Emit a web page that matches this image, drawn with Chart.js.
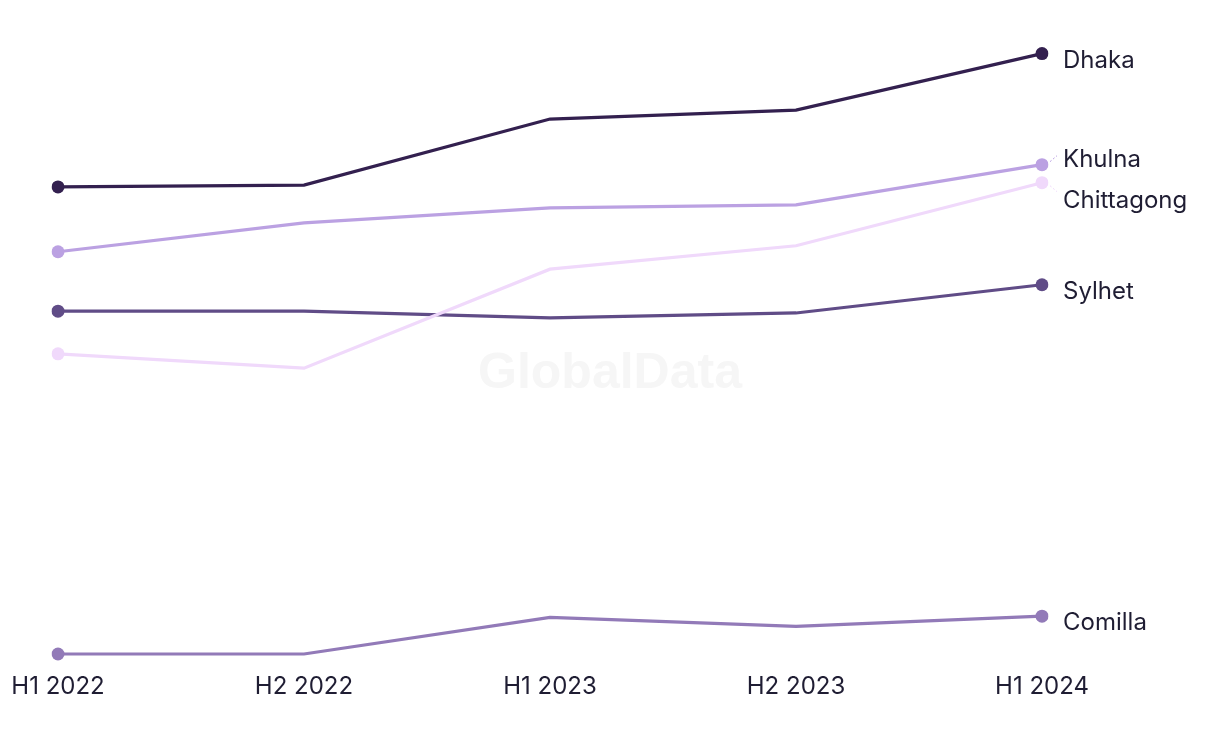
<!DOCTYPE html>
<html>
<head>
<meta charset="utf-8">
<script src="https://cdn.jsdelivr.net/npm/chart.js@4.4.1/dist/chart.umd.min.js"></script>
<style>
  html, body { margin: 0; padding: 0; background: #fff; }
  canvas { display: block; }
</style>
</head>
<body>
<canvas id="chart" width="1220" height="744"></canvas>
<script>
// periods and series (no y axis shown, values read as relative units)
const periods = ['H1 2022', 'H2 2022', 'H1 2023', 'H2 2023', 'H1 2024'];
const dhaka = [85.5, 85.8, 96.8, 98.3, 107.7];
const khulna = [74.7, 79.5, 82.0, 82.5, 89.2];
const chittagong = [57.7, 55.3, 71.8, 75.7, 86.2];
const sylhet = [64.8, 64.8, 63.7, 64.5, 69.2];
const comilla = [7.7, 7.7, 13.8, 12.3, 14.0];

const textColor = '#1f1d33';
const fontFamily = 'Inter, "Noto Sans", sans-serif';

const makeSet = (label, data, color) => ({
    label: label,
    data: data,
    borderColor: color,
    backgroundColor: color,
    pointBackgroundColor: color,
    pointBorderWidth: 0,
    pointRadius: (ctx) => (ctx.dataIndex === 0 || ctx.dataIndex === data.length - 1) ? 6.5 : 0,
    borderWidth: 3.2,
    tension: 0
});

// watermark behind the lines
const watermark = {
    id: 'watermark',
    beforeDatasetsDraw(chart) {
        const ctx = chart.ctx;
        ctx.save();
        ctx.font = 'bold 50px "Liberation Sans", Arial, sans-serif';
        ctx.fillStyle = '#f6f6f6';
        ctx.textAlign = 'center';
        ctx.textBaseline = 'middle';
        ctx.fillText('GlobalData', 610, 374);
        ctx.restore();
    }
};

// end labels with simple collision dodge
const endLabels = {
    id: 'endLabels',
    afterDatasetsDraw(chart) {
        const ctx = chart.ctx;
        const minGap = 41;
        const items = chart.data.datasets.map((ds, i) => {
            const meta = chart.getDatasetMeta(i);
            const pt = meta.data[meta.data.length - 1];
            return { label: ds.label, x: pt.x, py: pt.y, y: pt.y + 7, color: ds.borderColor };
        }).sort((a, b) => a.y - b.y);

        // push apart overlapping neighbours around their midpoint
        for (let k = 0; k < 5; k++) {
            for (let i = 1; i < items.length; i++) {
                const a = items[i - 1], b = items[i];
                if (b.y - a.y < minGap) {
                    const mid = (a.y + b.y) / 2;
                    a.y = mid - minGap / 2;
                    b.y = mid + minGap / 2;
                }
            }
        }

        ctx.save();
        ctx.font = '24px ' + fontFamily;
        ctx.fillStyle = textColor;
        ctx.textAlign = 'left';
        ctx.textBaseline = 'middle';
        items.forEach(it => {
            if (Math.abs(it.y - (it.py + 7)) > 2) {
                ctx.strokeStyle = it.color;
                ctx.lineWidth = 1;
                ctx.setLineDash([2, 2]);
                ctx.beginPath();
                const dir = it.y < it.py ? -1 : 1;
                ctx.moveTo(it.x + 8, it.py + dir * 3);
                ctx.lineTo(it.x + 15, it.py + dir * 9);
                ctx.stroke();
                ctx.setLineDash([]);
            }
            ctx.fillStyle = textColor;
            ctx.fillText(it.label, it.x + 21, it.y);
        });
        ctx.restore();
    }
};

new Chart(document.getElementById('chart').getContext('2d'), {
    type: 'line',
    data: {
        labels: periods,
        datasets: [
            makeSet('Dhaka', dhaka, '#33204f'),
            makeSet('Khulna', khulna, '#bba1e2'),
            makeSet('Chittagong', chittagong, '#f0d9fb'),
            makeSet('Sylhet', sylhet, '#604c87'),
            makeSet('Comilla', comilla, '#927ab8')
        ]
    },
    options: {
        responsive: false,
        animation: false,
        layout: {
            padding: { left: 58, right: 178, top: 20, bottom: 33 }
        },
        plugins: {
            legend: { display: false },
            tooltip: { enabled: false }
        },
        scales: {
            x: {
                offset: false,
                grid: { display: false, drawTicks: false },
                border: { display: false },
                ticks: {
                    color: textColor,
                    font: { family: fontFamily, size: 24 },
                    padding: 10,
                    maxRotation: 0
                }
            },
            y: {
                display: false,
                min: 6.33,
                max: 113.3
            }
        }
    },
    plugins: [watermark, endLabels]
});
</script>
</body>
</html>
